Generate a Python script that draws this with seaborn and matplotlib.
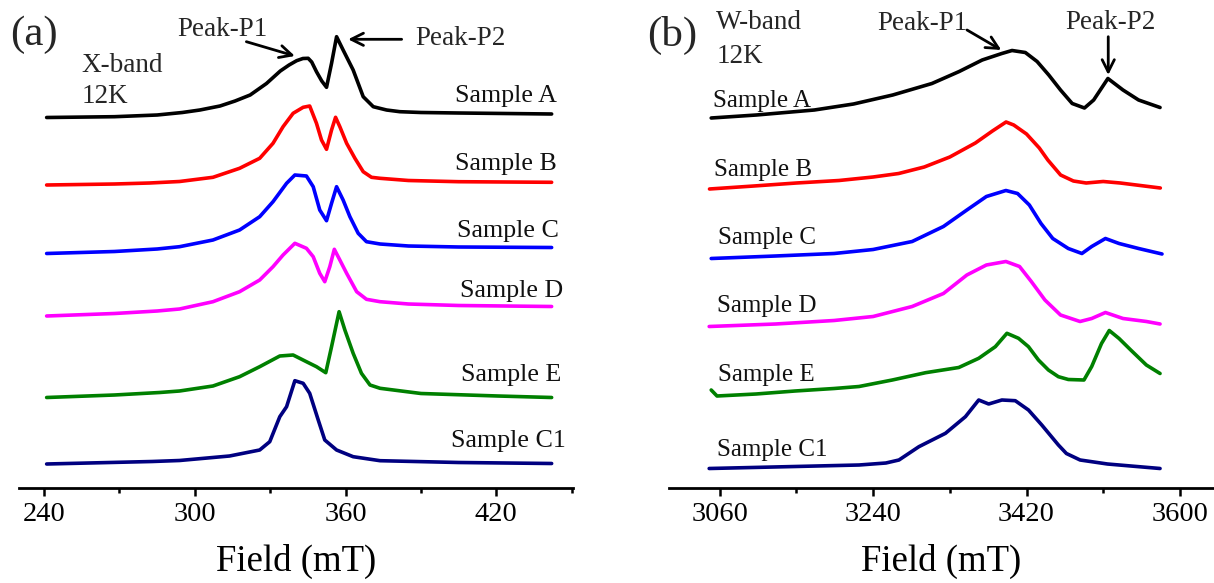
import numpy as np
import pandas as pd
import matplotlib
matplotlib.use("Agg")
import matplotlib.pyplot as plt
from matplotlib.ticker import FixedLocator
import seaborn as sns

# ---------------- data ----------------
samples = ["Sample A", "Sample B", "Sample C", "Sample D", "Sample E", "Sample C1"]
colors = ["#000000", "#ff0000", "#0000ff", "#ff00ff", "#008000", "#000080"]

# X-band (mT) -- stacked intensity (a.u.)
xa_A_f = [241, 268, 285, 295, 302, 310, 316, 322, 328.5, 334, 337.5, 340.5, 343, 345.1, 346.5, 348.4, 350.5, 352.4, 354.4, 356.4, 359, 363, 367, 371, 376.3, 381.6, 390, 405, 442]
xa_A_v = [370.5, 371.3, 373, 375.5, 378, 382, 387, 393, 404.5, 417, 423, 427.3, 429.5, 429.7, 426, 416.3, 407, 400.7, 424.7, 451.3, 438, 418, 391.3, 381.3, 378, 376.3, 375.5, 375, 374]

xa_B_f = [241, 268, 282, 293.9, 307.2, 317.8, 325.8, 331.1, 335.1, 339.1, 343.1, 345.7, 348.4, 350.4, 352.4, 354.4, 356, 357.7, 360.4, 363.7, 367, 370.3, 373.7, 385, 405, 442]
xa_B_v = [303, 304, 305, 306.5, 310.7, 319.7, 329.7, 344.7, 361.3, 374.7, 380.7, 382, 364.7, 348, 338.7, 358, 370.7, 361.3, 344.7, 329.7, 316.3, 310.7, 309.7, 307.5, 306.3, 305.7]

xa_C_f = [241, 268, 285, 293.9, 307.2, 317.8, 325.8, 331.1, 336.5, 339.8, 344.4, 347.1, 349.7, 352.4, 354.4, 356.4, 359, 361.7, 365, 368.3, 373.7, 385, 405, 442]
xa_C_v = [234.5, 236.5, 239, 241.3, 248, 258, 271.3, 286.3, 304.7, 313, 312, 301.3, 278, 267.3, 284.7, 301.3, 288, 271.3, 254.7, 246.3, 244, 242, 241, 240.5]

xa_D_f = [241, 268, 285, 293.9, 307.2, 317.8, 325.8, 331.1, 335.1, 339.8, 344.4, 347.1, 349.7, 351.7, 353.7, 355.5, 357.7, 360.4, 364.4, 368.3, 373.7, 385, 405, 442]
xa_D_v = [172, 174.5, 177, 179, 186.3, 196.3, 208, 221.3, 233, 244.7, 239.7, 231.3, 214.7, 206.3, 221.3, 238.7, 228, 214.7, 196.3, 188.7, 186.3, 184, 182.5, 181.5]

xa_E_f = [241, 268, 286, 293.9, 307.2, 317.8, 325.8, 333.8, 339.1, 344.4, 348.4, 352.1, 354.4, 357.4, 359.7, 363, 366.3, 369.7, 373.7, 390, 420.6, 442]
xa_E_v = [90.5, 93, 95.5, 97, 102, 111.3, 121.3, 132, 133, 126.3, 121.3, 115.3, 141.3, 176.3, 158, 134.7, 114.7, 103, 99.7, 94.5, 92, 90.5]

xa_C1_f = [241, 283, 293.9, 313.8, 325.8, 329.8, 333.8, 336.5, 339.8, 343.1, 345.7, 349.1, 351.7, 356.4, 363, 373.7, 405, 442]
xa_C1_v = [24, 26.5, 27.5, 32, 38, 46.3, 71.3, 81.3, 107.3, 104.7, 94.7, 68, 48, 38, 31.3, 27.3, 25.5, 24.5]

# W-band (mT) -- stacked intensity (a.u.)
wb_A_f = [3050, 3103, 3171, 3217, 3263, 3309, 3341, 3368, 3391, 3403, 3418.6, 3432.4, 3446.1, 3459.9, 3473.6, 3488, 3498.8, 3515.5, 3533.2, 3551.5, 3576.7]
wb_A_v = [370, 373, 378, 384, 393, 404.5, 416.5, 428, 434.5, 437.5, 435.5, 426.5, 413, 398, 384.5, 380, 388, 409.5, 398, 388, 380.5]

wb_B_f = [3048, 3100, 3150, 3200, 3240, 3270, 3300, 3330, 3360, 3380, 3396, 3405, 3420, 3435, 3445, 3460, 3475, 3490, 3510, 3530, 3577]
wb_B_v = [299, 302, 305, 307.5, 311, 314.5, 321, 331, 345, 357, 366, 363, 354, 340, 328, 313, 307, 305, 306.5, 305, 300]

wb_C_f = [3050, 3125.5, 3194.2, 3240, 3285.8, 3322.5, 3350, 3372.9, 3395.8, 3409.5, 3423.3, 3437, 3450.8, 3469, 3485, 3496.5, 3512.6, 3528.6, 3551.5, 3579]
wb_C_v = [229.5, 232, 234.5, 238.5, 246.5, 261.5, 278, 291.5, 297.5, 294.5, 283, 264.5, 249.5, 239.5, 234.5, 241.5, 249.5, 244.5, 239.5, 234]

wb_D_f = [3047.6, 3125.5, 3194.2, 3240, 3285.8, 3322.5, 3350, 3372.9, 3395.8, 3411.8, 3425.6, 3441.6, 3459.9, 3482.8, 3496.5, 3512.6, 3533.2, 3560.7, 3576.7]
wb_D_v = [161.5, 164, 167.5, 171.5, 181.5, 194.5, 213, 223, 226.5, 221.5, 206.5, 188, 173, 166.5, 169.5, 175.5, 169.5, 166.5, 164]

wb_E_f = [3050, 3056.8, 3102.6, 3148.4, 3194.2, 3223.5, 3262.5, 3301.5, 3340.5, 3363.9, 3383.4, 3397, 3410.6, 3422.3, 3434, 3445.7, 3457.4, 3469.1, 3487.4, 3496.5, 3508, 3517.1, 3528.6, 3542.3, 3560.6, 3576.7]
wb_E_v = [98, 92, 94, 97, 99.5, 101.5, 108, 115.3, 120.5, 129.7, 141.3, 154.7, 149.7, 141.3, 128, 118, 111.3, 108.5, 108, 121.5, 144.5, 157.5, 149.5, 138, 123, 114.5]

wb_C1_f = [3047.6, 3148.4, 3223.5, 3255, 3270.3, 3293.7, 3324.9, 3348.3, 3363.9, 3375.6, 3391.1, 3406.8, 3422.3, 3437.9, 3457.4, 3466.8, 3482.9, 3515, 3576.7]
wb_C1_v = [19.5, 21.5, 23, 25, 28, 41.3, 54.7, 71.3, 88, 84, 88, 87.3, 78, 63, 43, 34.5, 28, 24, 19.5]

x_fields = [xa_A_f, xa_B_f, xa_C_f, xa_D_f, xa_E_f, xa_C1_f]
x_values = [xa_A_v, xa_B_v, xa_C_v, xa_D_v, xa_E_v, xa_C1_v]
w_fields = [wb_A_f, wb_B_f, wb_C_f, wb_D_f, wb_E_f, wb_C1_f]
w_values = [wb_A_v, wb_B_v, wb_C_v, wb_D_v, wb_E_v, wb_C1_v]

x_major = [240, 300, 360, 420]
x_minor = [270, 330, 390, 450]
w_major = [3060, 3240, 3420, 3600]
w_minor = [3150, 3330, 3510]


def long_frame(fields, values):
    rows = []
    for name, f, v in zip(samples, fields, values):
        for ff, vv in zip(f, v):
            rows.append({"sample": name, "field": ff, "signal": vv})
    return pd.DataFrame(rows)


df_x = long_frame(x_fields, x_values)
df_w = long_frame(w_fields, w_values)

# ---------------- style ----------------
sns.set_theme(style="white")
plt.rcParams["font.family"] = ["Liberation Serif", "DejaVu Serif"]

W, H = 1214, 583
fig = plt.figure(figsize=(W / 100, H / 100), dpi=100)
bottom = 95 / H
ax_a = fig.add_axes([19 / W, bottom, (573 - 19) / W, 1 - bottom])
ax_b = fig.add_axes([668.6 / W, bottom, (W - 668.6) / W, 1 - bottom])

palette = dict(zip(samples, colors))
for ax, df in ((ax_a, df_x), (ax_b, df_w)):
    sns.lineplot(data=df, x="field", y="signal", hue="sample", palette=palette,
                 estimator=None, sort=False, units="sample", legend=False,
                 lw=2.6, ax=ax)

for ax in (ax_a, ax_b):
    ax.set_ylim(0, 488)
    ax.set_yticks([])
    ax.set_ylabel("")
    for s in ("left", "top", "right"):
        ax.spines[s].set_visible(False)
    ax.spines["bottom"].set_linewidth(2.0)
    ax.spines["bottom"].set_color("black")
    ax.tick_params(axis="x", which="major", direction="out", length=6, width=1.8,
                   color="black", labelsize=20.5, pad=4, bottom=True, labelcolor="black")
    ax.tick_params(axis="x", which="minor", direction="out", length=3.5, width=1.8,
                   color="black", bottom=True)
    ax.set_xlabel("Field (mT)", fontsize=26.5, labelpad=12, color="black")
    ax.set_facecolor("white")

ax_a.set_xlim(230, 450.5)
ax_a.xaxis.set_major_locator(FixedLocator(x_major))
ax_a.xaxis.set_minor_locator(FixedLocator(x_minor))
ax_b.set_xlim(3000, 3640)
ax_b.xaxis.set_major_locator(FixedLocator(w_major))
ax_b.xaxis.set_minor_locator(FixedLocator(w_minor))

fs_a = 18.7
fs_b = 18
fs_t = 19.5
a_lab_x = [444.1, 444.2, 445, 446.6, 445.7, 447.7]
a_lab_y = [386, 318, 251, 191.3, 107.3, 41.3]
for name, lx, ly in zip(samples, a_lab_x, a_lab_y):
    ax_a.text(lx, ly, name, ha="right", va="baseline", fontsize=fs_a, color="#111111")
b_lab_x = [3052.2, 3053.6, 3057.7, 3056.8, 3057.7, 3056.8]
b_lab_y = [381, 312, 243.7, 176.3, 107.3, 32]
for name, lx, ly in zip(samples, b_lab_x, b_lab_y):
    ax_b.text(lx, ly, name, ha="left", va="baseline", fontsize=fs_b, color="#111111")

ax_a.text(254.8, 416, "X-band", ha="left", va="baseline", fontsize=fs_t)
ax_a.text(254.8, 385, "12K", ha="left", va="baseline", fontsize=fs_t)
ax_b.text(3055.9, 458.7, "W-band", ha="left", va="baseline", fontsize=fs_t)
ax_b.text(3055.9, 424.7, "12K", ha="left", va="baseline", fontsize=fs_t)

ax_a.text(293.1, 452, "Peak-P1", ha="left", va="baseline", fontsize=fs_t)
ax_a.text(387.6, 443, "Peak-P2", ha="left", va="baseline", fontsize=fs_t)
ax_b.text(3244.6, 457.5, "Peak-P1", ha="left", va="baseline", fontsize=fs_t)
ax_b.text(3465.3, 458.7, "Peak-P2", ha="left", va="baseline", fontsize=fs_t)

arrow = dict(arrowstyle="->", lw=2.0, color="black", mutation_scale=22,
             shrinkA=0, shrinkB=0)
ax_a.annotate("", xy=(339.8, 432), xytext=(320.5, 446.3), arrowprops=arrow, annotation_clip=False)
ax_a.annotate("", xy=(361.0, 448.7), xytext=(382.3, 448.7), arrowprops=arrow, annotation_clip=False)
ax_b.annotate("", xy=(3390.4, 438), xytext=(3350.2, 458), arrowprops=arrow, annotation_clip=False)
ax_b.annotate("", xy=(3515.9, 413), xytext=(3515.9, 451.3), arrowprops=arrow, annotation_clip=False)

fig.text(33.5 / W, 1 - 35 / H, "(a)", ha="center", va="center", fontsize=31)
fig.text(672.5 / W, 1 - 35 / H, "(b)", ha="center", va="center", fontsize=31)

fig.savefig("out.png", dpi=100, facecolor="white")
